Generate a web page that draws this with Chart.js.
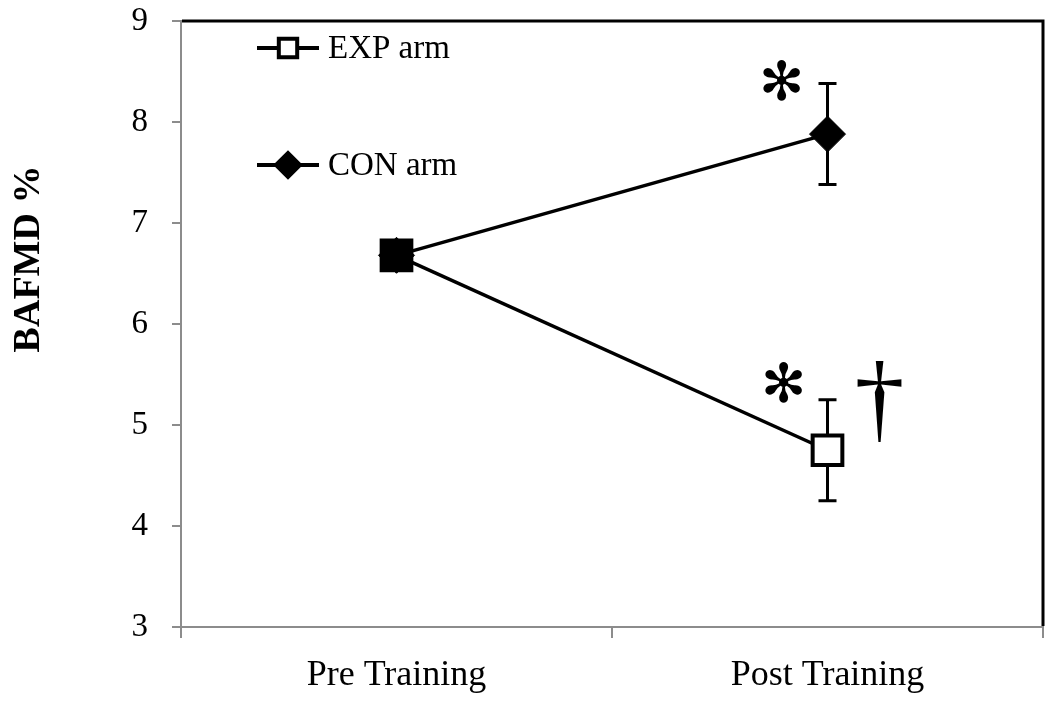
<!DOCTYPE html>
<html><head><meta charset="utf-8">
<script src="https://cdn.jsdelivr.net/npm/chart.js@4"></script>
<style>html,body{margin:0;padding:0;background:#fff}#wrap{width:1050px;height:707px}</style>
</head><body><div id="wrap"><canvas id="c" width="1050" height="707"></canvas></div>
<script>
const categories = ['Pre Training', 'Post Training'];
const seriesNames = ['EXP arm', 'CON arm'];
const expValues = [6.68, 4.75];
const conValues = [6.68, 7.88];
const expErrors = [0, 0.5];
const conErrors = [0, 0.5];
const yTicks = [3, 4, 5, 6, 7, 8, 9];
const yTitle = 'BAFMD %';
const starSymbol = '\u273B';
const daggerSymbol = '\u2020';

const SERIF = '"Liberation Serif", "Times New Roman", serif';
const GRAY = '#8c8c8c';

const errorBars = {
  id: 'errorBars',
  beforeDatasetsDraw(chart) {
    const ctx = chart.ctx;
    const errs = [expErrors, conErrors];
    ctx.save();
    ctx.strokeStyle = '#000';
    ctx.lineWidth = 3;
    chart.data.datasets.forEach((ds, i) => {
      const meta = chart.getDatasetMeta(i);
      ds.data.forEach((v, j) => {
        const e = errs[i][j];
        if (!e) return;
        const x = meta.data[j].x;
        const yT = chart.scales.y.getPixelForValue(v + e);
        const yB = chart.scales.y.getPixelForValue(v - e);
        ctx.beginPath();
        ctx.moveTo(x, yT); ctx.lineTo(x, yB);
        ctx.moveTo(x - 9, yT); ctx.lineTo(x + 9, yT);
        ctx.moveTo(x - 9, yB); ctx.lineTo(x + 9, yB);
        ctx.stroke();
      });
    });
    ctx.restore();
  }
};

const frame = {
  id: 'frame',
  afterDraw(chart) {
    const {ctx, chartArea: a} = chart;
    ctx.save();
    ctx.strokeStyle = '#000';
    ctx.lineWidth = 3;
    ctx.beginPath();
    ctx.moveTo(a.left + 1, a.top);
    ctx.lineTo(a.right, a.top);
    ctx.lineTo(a.right, a.bottom - 1);
    ctx.stroke();
    ctx.restore();
  }
};

const yTitlePlugin = {
  id: 'yTitlePlugin',
  afterDraw(chart) {
    const ctx = chart.ctx;
    ctx.save();
    ctx.translate(29, 259);
    ctx.rotate(-Math.PI / 2);
    ctx.fillStyle = '#000';
    ctx.font = 'bold 38px ' + SERIF;
    ctx.textAlign = 'center';
    ctx.textBaseline = 'middle';
    ctx.fillText(yTitle, 0, 0);
    ctx.restore();
  }
};

const customLegend = {
  id: 'customLegend',
  afterDatasetsDraw(chart) {
    const ctx = chart.ctx;
    const items = [
      {y: 48, ds: 0, style: 'rect', r: 13, fill: '#fff'},
      {y: 165, ds: 1, style: 'rectRot', r: 12, fill: '#000'}
    ];
    ctx.save();
    items.forEach(it => {
      ctx.strokeStyle = '#000';
      ctx.lineWidth = 4;
      ctx.beginPath();
      ctx.moveTo(257, it.y); ctx.lineTo(319, it.y);
      ctx.stroke();
      ctx.fillStyle = it.fill;
      ctx.lineWidth = 4;
      Chart.helpers.drawPoint(ctx, {pointStyle: it.style, radius: it.r, rotation: 0, borderWidth: 4}, 288, it.y);
      ctx.fillStyle = '#000';
      ctx.font = '33px ' + SERIF;
      ctx.textBaseline = 'middle';
      ctx.textAlign = 'left';
      ctx.fillText(chart.data.datasets[it.ds].label, 328, it.y + 1);
    });
    ctx.restore();
  }
};

const marks = {
  id: 'marks',
  afterDatasetsDraw(chart) {
    const ctx = chart.ctx;
    const ys = chart.scales.y;
    const xPost = chart.scales.x.getPixelForValue(1);
    ctx.save();
    ctx.fillStyle = '#000';
    ctx.textAlign = 'center';
    ctx.textBaseline = 'middle';
    ctx.font = '54px "DejaVu Sans"';
    ctx.fillText(starSymbol, xPost - 46, ys.getPixelForValue(conValues[1] + conErrors[1]) + 2);
    ctx.fillText(starSymbol, xPost - 44, ys.getPixelForValue(expValues[1] + expErrors[1]) - 12);
    ctx.font = '100px ' + SERIF;
    ctx.fillText(daggerSymbol, xPost + 52, ys.getPixelForValue(expValues[1] + expErrors[1]) + 4);
    ctx.restore();
  }
};

new Chart(document.getElementById('c'), {
  type: 'line',
  data: {
    labels: categories,
    datasets: [
      {
        label: seriesNames[0],
        data: expValues,
        borderColor: '#000',
        borderWidth: 3.5,
        pointStyle: 'rect',
        pointRadius: 21,
        pointBorderWidth: 4,
        pointBorderColor: '#000',
        pointBackgroundColor: ['#000', '#fff'],
        tension: 0
      },
      {
        label: seriesNames[1],
        data: conValues,
        borderColor: '#000',
        borderWidth: 3.5,
        pointStyle: 'rectRot',
        pointRadius: 18,
        pointBorderWidth: 1,
        pointBorderColor: '#000',
        pointBackgroundColor: '#000',
        tension: 0
      }
    ]
  },
  options: {
    responsive: false,
    devicePixelRatio: 1,
    animation: false,
    layout: {autoPadding: false, padding: {top: 21, right: 7, left: 0, bottom: 0}},
    plugins: {legend: {display: false}, tooltip: {enabled: false}},
    scales: {
      x: {
        type: 'category',
        offset: true,
        grid: {display: true, drawOnChartArea: false, offset: true, tickLength: 11, color: GRAY, lineWidth: 2},
        border: {display: true, color: GRAY, width: 2},
        ticks: {color: '#000', font: {family: SERIF, size: 36}, padding: 16},
        afterFit(s) { s.height = 80; s.paddingLeft = 0; s.paddingRight = 0; }
      },
      y: {
        min: 3, max: 9,
        afterBuildTicks(s) { s.ticks = yTicks.map(v => ({value: v})); },
        grid: {display: true, drawOnChartArea: false, tickLength: 9, color: GRAY, lineWidth: 2},
        border: {display: true, color: GRAY, width: 2},
        ticks: {color: '#000', font: {family: SERIF, size: 33}, padding: 24},
        title: {display: false, text: yTitle},
        afterFit(s) { s.width = 181; s.paddingTop = 0; s.paddingBottom = 0; }
      }
    }
  },
  plugins: [errorBars, customLegend, marks, frame, yTitlePlugin]
});
</script>
</body></html>
